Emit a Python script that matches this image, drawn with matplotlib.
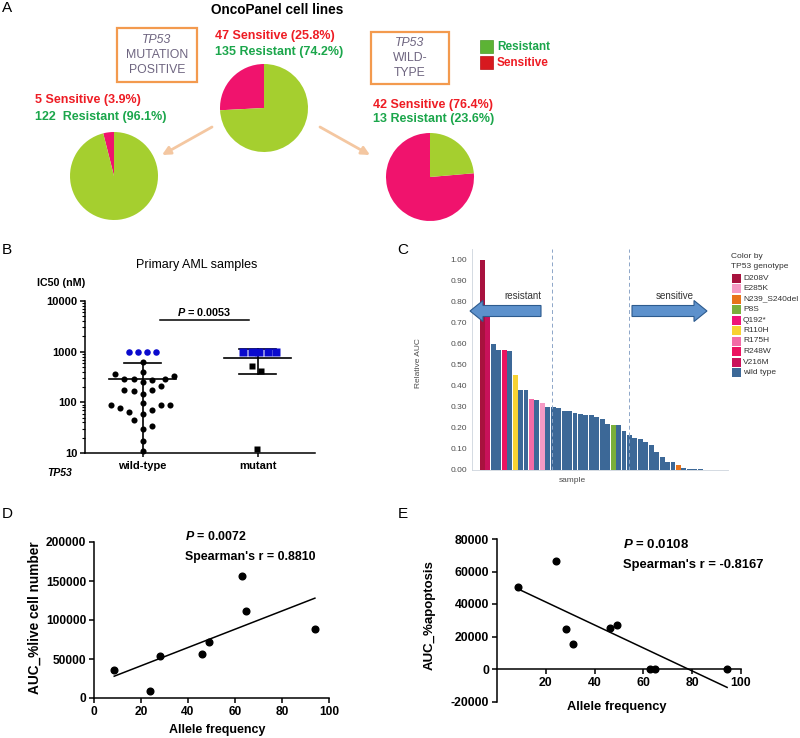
import matplotlib
matplotlib.use('Agg')
import matplotlib.pyplot as plt
from matplotlib.patches import Rectangle, FancyArrow
from matplotlib.ticker import LogLocator, NullFormatter
import numpy as np

plt.rcParams['font.family'] = ['Liberation Sans', 'DejaVu Sans']
plt.rcParams['mathtext.fontset'] = 'custom'
plt.rcParams['mathtext.it'] = 'Liberation Sans:italic:bold'
plt.rcParams['mathtext.rm'] = 'Liberation Sans:bold'

W, H = 800, 738

# ---------------- data ----------------
# A: OncoPanel cell lines (all, TP53 mutant, TP53 wild-type)
pie_sensitive = [47, 5, 42]
pie_resistant = [135, 122, 13]
pie_sens_text = ['47 Sensitive (25.8%)', '5 Sensitive (3.9%)', '42 Sensitive (76.4%)']
pie_res_text = ['135 Resistant (74.2%)', '122  Resistant (96.1%)', '13 Resistant (23.6%)']

# B: primary AML samples, IC50 (nM)
b_categories = ['wild-type', 'mutant']
wt_capped = [1000, 1000, 1000, 1000]
wt_ic50 = [617, 404, 358, 290, 290, 250, 277, 290, 337, 176, 168, 145, 176, 214,
           89, 77, 64, 96, 71, 89, 89, 59, 44, 30, 33.5, 17, 10.8]
mut_capped = [1000, 1000, 1000, 1000, 1000]
mut_ic50 = [523, 423, 12.2]

# C: relative AUC by sample, coloured by TP53 genotype
c_auc = [1.00, 0.73, 0.60, 0.57, 0.57, 0.565, 0.45, 0.38, 0.38, 0.335, 0.33, 0.317,
         0.30, 0.30, 0.293, 0.278, 0.277, 0.268, 0.263, 0.26, 0.26, 0.249, 0.241,
         0.215, 0.213, 0.213, 0.183, 0.164, 0.148, 0.145, 0.132, 0.115, 0.083,
         0.06, 0.037, 0.034, 0.023, 0.006, 0.004, 0.003, 0.002]
c_genotype = (['D208V', 'V216M', 'wild type', 'wild type', 'R248W', 'wild type',
               'R110H', 'wild type', 'wild type', 'R175H', 'wild type', 'E285K']
              + ['wild type'] * 12 + ['P8S'] + ['wild type'] * 11
              + ['N239_S240del'] + ['wild type'] * 4)
genotype_order = ['D208V', 'E285K', 'N239_S240del', 'P8S', 'Q192*', 'R110H',
                  'R175H', 'R248W', 'V216M', 'wild type']
genotype_colors = ['#A8123E', '#F59AC4', '#E8731A', '#7BAF3B', '#EE1478', '#F7D232',
                   '#F26BA6', '#EC1260', '#C9115A', '#3C6897']

# D / E: allele frequency correlations
d_allele = [8.6, 24, 28, 46, 49, 62.8, 64.5, 94]
d_live = [36000, 9000, 53500, 56500, 72000, 157000, 112000, 88500]
e_allele = [8.7, 24.1, 28.2, 31.1, 46.2, 49.2, 62.6, 64.8, 94.3]
e_apoptosis = [50600, 66600, 24400, 15200, 25000, 27100, 0, 0, 0]

# scatter jitter for panel B (layout only)
wt_capped_jit = [-0.119, -0.041, 0.041, 0.119]
wt_jit = [0, 0, -0.237, -0.157, -0.078, 0, 0.081, 0.197, 0.278, -0.157, -0.078, 0,
          0.081, 0.163, -0.278, -0.2, -0.119, 0, 0.081, 0.163, 0.241, 0, -0.078,
          0, 0.081, 0, 0]
mut_capped_jit = [-0.122, -0.052, 0.017, 0.087, 0.157]
mut_jit = [-0.046, 0.032, -0.006]

PIE_RED = '#F0136D'
PIE_GREEN = '#A5CF2F'
TXT_RED = '#EE1C24'
TXT_GREEN = '#1BA64B'
BOX_ORANGE = '#F39A4E'
BOX_GRAY = '#6E6580'


def px_box(left, top, width, height):
    return [left / W, 1 - (top + height) / H, width / W, height / H]


def graphpad(ax):
    for side in ['top', 'right']:
        ax.spines[side].set_visible(False)
    for side in ['left', 'bottom']:
        ax.spines[side].set_linewidth(1.1)
    ax.tick_params(width=1.1, length=3.5, direction='out', pad=2)
    ax.patch.set_alpha(0)


fig = plt.figure(figsize=(W / 100, H / 100), dpi=100)

# ---------------- A: pies ----------------
pie_centers = [(264, 108), (114, 176), (430, 177)]
pie_r = 44
for (cx, cy), s, r in zip(pie_centers, pie_sensitive, pie_resistant):
    ax = fig.add_axes(px_box(cx - pie_r, cy - pie_r, 2 * pie_r, 2 * pie_r))
    ax.pie([s, r], colors=[PIE_RED, PIE_GREEN], startangle=90, counterclock=True,
           radius=1, wedgeprops={'linewidth': 0})
    ax.set_xlim(-1, 1)
    ax.set_ylim(-1, 1)

# ---------------- B: IC50 scatter ----------------
axB = fig.add_axes(px_box(85, 301, 230, 152))
graphpad(axB)
axB.set_yscale('log')
axB.set_ylim(10, 10000)
axB.set_xlim(0.5, 2.5)
groups = [(wt_capped, wt_capped_jit, wt_ic50, wt_jit, 'o'),
          (mut_capped, mut_capped_jit, mut_ic50, mut_jit, 's')]
for i, (capped, cjit, vals, jit, mk) in enumerate(groups):
    x0 = i + 1
    allv = np.array(capped + vals, dtype=float)
    m, sd = allv.mean(), allv.std(ddof=1)
    axB.plot([x0 - 0.29, x0 + 0.29], [m, m], color='black', lw=1.2, zorder=2)
    axB.plot([x0, x0], [max(m - sd, 10), m + sd], color='black', lw=1.2, zorder=2)
    axB.plot([x0 - 0.165, x0 + 0.165], [m + sd, m + sd], color='black', lw=1.2, zorder=2)
    if m - sd > 0:
        axB.plot([x0 - 0.165, x0 + 0.165], [m - sd, m - sd], color='black', lw=1.2, zorder=2)
    axB.plot(x0 + np.array(jit), vals, mk, color='black', ms=4.4 if mk == 'o' else 4.6,
             mec='none', clip_on=False, zorder=3)
    axB.plot(x0 + np.array(cjit), capped, mk, color='#0A0ACD',
             ms=4.7 if mk == 'o' else 5.8, mec='none', clip_on=False, zorder=4)
axB.set_yticks([10, 100, 1000, 10000], ['10', '100', '1000', '10000'],
               fontweight='bold', fontsize=8)
axB.yaxis.set_minor_locator(LogLocator(base=10, subs=np.arange(2, 10)))
axB.yaxis.set_minor_formatter(NullFormatter())
axB.tick_params(axis='y', which='minor', length=2, width=0.8)
axB.set_xticks([1, 2], b_categories, fontweight='bold', fontsize=8)
axB.tick_params(axis='x', length=3, pad=3)
axB.plot([1.15, 1.93], [4240, 4240], color='black', lw=1.1, clip_on=False)
axB.text(1.54, 6080, r'$P$ = 0.0053', ha='center', va='center', fontsize=7.8,
         fontweight='bold')

# ---------------- C: relative AUC bars ----------------
axC = fig.add_axes(px_box(472, 249, 256, 220.5))
idx = np.arange(len(c_auc))
bar_colors = [genotype_colors[genotype_order.index(g)] for g in c_genotype]
axC.bar(idx, c_auc, width=0.9, color=bar_colors, linewidth=0)
axC.set_xlim(-1.92, 45.1)
axC.set_ylim(0, 1.05)
yt = np.round(np.arange(0, 1.01, 0.1), 2)
axC.set_yticks(yt, [f'{v:.2f}' for v in yt], fontsize=6, color='#4D4D4D')
axC.set_xticks([])
axC.tick_params(axis='y', length=0, pad=3.6)
for side in ['top', 'right']:
    axC.spines[side].set_visible(False)
for side in ['left', 'bottom']:
    axC.spines[side].set_color('#CDD4DD')
    axC.spines[side].set_linewidth(0.6)
for xv in [12.84, 26.88]:
    axC.axvline(xv, color='#8DA6C8', lw=0.7, ls=(0, (4, 3)))

# ---------------- D: live cell number ----------------
axD = fig.add_axes(px_box(94, 542, 235, 156))
graphpad(axD)
axD.plot(d_allele, d_live, 'o', color='black', ms=4.8, clip_on=False, zorder=3)
k, b0 = np.polyfit(d_allele, d_live, 1)
xs = np.array([min(d_allele), max(d_allele)])
axD.plot(xs, k * xs + b0, color='black', lw=1.1)
axD.set_xlim(0, 100)
axD.set_ylim(0, 200000)
axD.set_xticks(range(0, 101, 20), [str(v) for v in range(0, 101, 20)],
               fontweight='bold', fontsize=8.6)
axD.set_yticks(range(0, 200001, 50000), [str(v) for v in range(0, 200001, 50000)],
               fontweight='bold', fontsize=8.6)

# ---------------- E: apoptosis ----------------
axE = fig.add_axes(px_box(497, 539, 244, 162.5))
graphpad(axE)
axE.spines['bottom'].set_position(('data', 0))
axE.plot(e_allele, e_apoptosis, 'o', color='black', ms=4.8, clip_on=False, zorder=3)
k, b0 = np.polyfit(e_allele, e_apoptosis, 1)
xs = np.array([min(e_allele), max(e_allele)])
axE.plot(xs, k * xs + b0, color='black', lw=1.1, clip_on=False)
axE.set_xlim(0, 100)
axE.set_ylim(-20000, 80000)
axE.set_xticks(range(20, 101, 20), [str(v) for v in range(20, 101, 20)],
               fontweight='bold', fontsize=8.8)
axE.set_yticks(range(-20000, 80001, 20000), [str(v) for v in range(-20000, 80001, 20000)],
               fontweight='bold', fontsize=8.8)

# ---------------- overlay: labels, boxes, arrows ----------------
ov = fig.add_axes([0, 0, 1, 1])
ov.set_xlim(0, W)
ov.set_ylim(H, 0)
ov.axis('off')
ov.set_zorder(10)


def put(x, y, s, **kw):
    kw.setdefault('va', 'center')
    ov.text(x, y, s, **kw)


for letter, (x, y) in zip('ABCDE', [(2, 8), (2, 250), (397, 250), (2, 514), (398, 514)]):
    put(x, y, letter, fontsize=11)

# A
put(277, 10, 'OncoPanel cell lines', ha='center', fontsize=9.8, fontweight='bold')
box_specs = [((117, 28, 80, 54), ['TP53', 'MUTATION', 'POSITIVE'], [40, 55, 70]),
             ((371, 32, 78, 52), ['TP53', 'WILD-', 'TYPE'], [43, 58, 73])]
for (x, y, w, h), lines, ys in box_specs:
    ov.add_patch(Rectangle((x, y), w, h, fc='white', ec=BOX_ORANGE, lw=1.6))
    for j, (t, ty) in enumerate(zip(lines, ys)):
        put(x + w / 2, ty, t, ha='center', fontsize=8.8, color=BOX_GRAY,
            fontstyle='italic' if j == 0 else 'normal')
pie_text_pos = [(215, 36, 52), (35, 100, 117), (373, 105, 119)]
for (tx, ys, yr), st, rt in zip(pie_text_pos, pie_sens_text, pie_res_text):
    put(tx, ys, st, color=TXT_RED, fontsize=9, fontweight='bold')
    put(tx, yr, rt, color=TXT_GREEN, fontsize=9, fontweight='bold')
ov.add_patch(Rectangle((480, 40), 13, 13, fc='#5CB335', ec='#4A9A2A', lw=0.5))
ov.add_patch(Rectangle((480, 56), 13, 13, fc='#D7191F', ec='#B81218', lw=0.5))
put(497, 46.5, 'Resistant', color=TXT_GREEN, fontsize=8.5, fontweight='bold')
put(497, 62.5, 'Sensitive', color=TXT_RED, fontsize=8.5, fontweight='bold')
for (x1, y1), (x2, y2) in [((212, 127), (162, 155)), ((320, 127), (370, 155))]:
    ov.annotate('', xy=(x2, y2), xytext=(x1, y1),
                arrowprops=dict(arrowstyle='-|>', color='#F4C7A1', lw=2,
                                mutation_scale=12, shrinkA=0, shrinkB=0))

# B
put(197, 265, 'Primary AML samples', ha='center', fontsize=9)
put(37, 283, 'IC50 (nM)', fontsize=7.7, fontweight='bold')
put(60, 473, 'TP53', ha='center', fontsize=7.5, fontweight='bold', fontstyle='italic')

# C
put(419, 363, 'Relative AUC', ha='center', rotation=90, fontsize=6, color='#4D4D4D')
put(572, 480, 'sample', ha='center', fontsize=6, color='#4D4D4D')
put(523, 296, 'resistant', ha='center', fontsize=7, color='#333333')
put(675, 296, 'sensitive', ha='center', fontsize=7, color='#333333')
for x0, dx in [(541, -71), (632, 75)]:
    ov.add_patch(FancyArrow(x0, 311, dx, 0, width=11, head_width=21, head_length=13,
                            length_includes_head=True, fc='#5D91CC', ec='#2D5B8E', lw=0.8))
put(731, 257, 'Color by', fontsize=6, color='#333333')
put(731, 267, 'TP53 genotype', fontsize=6, color='#333333')
for j, (g, c) in enumerate(zip(genotype_order, genotype_colors)):
    yy = 278 + 10.5 * j
    ov.add_patch(Rectangle((732, yy - 4.5), 9, 9, fc=c, ec='none'))
    put(743, yy, g, fontsize=6, color='#333333')

# D
put(185, 537, r'$P$ = 0.0072', fontsize=8.9, fontweight='bold')
put(185, 557, "Spearman's r = 0.8810", fontsize=8.9, fontweight='bold')
put(35, 618, 'AUC_%live cell number', ha='center', rotation=90, fontsize=9.8,
    fontweight='bold')
put(217, 730, 'Allele frequency', ha='center', fontsize=9, fontweight='bold')

# E
put(623, 545, r'$P$ = 0.0108', fontsize=9.5, fontweight='bold')
put(623, 565, "Spearman's r = -0.8167", fontsize=9.4, fontweight='bold')
put(430, 615, 'AUC_%apoptosis', ha='center', rotation=90, fontsize=9.5,
    fontweight='bold')
put(617, 707, 'Allele frequency', ha='center', fontsize=9.3, fontweight='bold')

fig.savefig('out.png', dpi=100)
